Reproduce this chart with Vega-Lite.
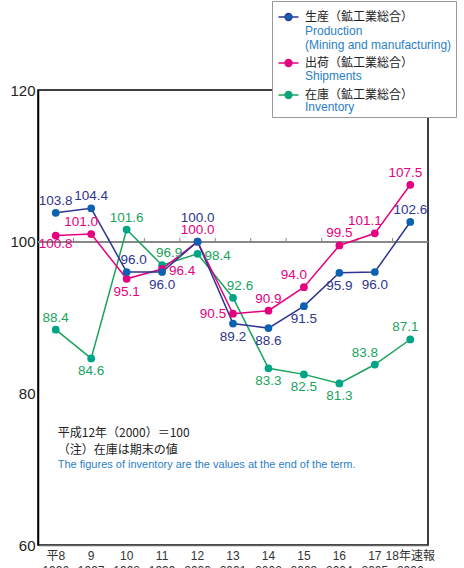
{
  "$schema": "https://vega.github.io/schema/vega-lite/v6.json",
  "width": 390,
  "height": 455,
  "autosize": {"type": "none"},
  "padding": {"left": 38, "top": 90, "right": 36, "bottom": 23},
  "background": "#ffffff",
  "config": {
    "view": {"stroke": "#000000", "strokeWidth": 1.5},
    "font": "Liberation Sans, Noto Sans CJK JP, sans-serif"
  },
  "resolve": {"scale": {"fill": "independent"}, "legend": {"fill": "independent"}},
  "data": {
    "values": [
      {"year": "1996", "series": "在庫", "en": "Inventory", "value": 88.4},
      {"year": "1997", "series": "在庫", "en": "Inventory", "value": 84.6},
      {"year": "1998", "series": "在庫", "en": "Inventory", "value": 101.6},
      {"year": "1999", "series": "在庫", "en": "Inventory", "value": 96.9},
      {"year": "2000", "series": "在庫", "en": "Inventory", "value": 98.4},
      {"year": "2001", "series": "在庫", "en": "Inventory", "value": 92.6},
      {"year": "2002", "series": "在庫", "en": "Inventory", "value": 83.3},
      {"year": "2003", "series": "在庫", "en": "Inventory", "value": 82.5},
      {"year": "2004", "series": "在庫", "en": "Inventory", "value": 81.3},
      {"year": "2005", "series": "在庫", "en": "Inventory", "value": 83.8},
      {"year": "2006", "series": "在庫", "en": "Inventory", "value": 87.1},
      {"year": "1996", "series": "出荷", "en": "Shipments", "value": 100.8},
      {"year": "1997", "series": "出荷", "en": "Shipments", "value": 101.0},
      {"year": "1998", "series": "出荷", "en": "Shipments", "value": 95.1},
      {"year": "1999", "series": "出荷", "en": "Shipments", "value": 96.4},
      {"year": "2000", "series": "出荷", "en": "Shipments", "value": 100.0},
      {"year": "2001", "series": "出荷", "en": "Shipments", "value": 90.5},
      {"year": "2002", "series": "出荷", "en": "Shipments", "value": 90.9},
      {"year": "2003", "series": "出荷", "en": "Shipments", "value": 94.0},
      {"year": "2004", "series": "出荷", "en": "Shipments", "value": 99.5},
      {"year": "2005", "series": "出荷", "en": "Shipments", "value": 101.1},
      {"year": "2006", "series": "出荷", "en": "Shipments", "value": 107.5},
      {"year": "1996", "series": "生産", "en": "Production", "value": 103.8},
      {"year": "1997", "series": "生産", "en": "Production", "value": 104.4},
      {"year": "1998", "series": "生産", "en": "Production", "value": 96.0},
      {"year": "1999", "series": "生産", "en": "Production", "value": 96.0},
      {"year": "2000", "series": "生産", "en": "Production", "value": 100.0},
      {"year": "2001", "series": "生産", "en": "Production", "value": 89.2},
      {"year": "2002", "series": "生産", "en": "Production", "value": 88.6},
      {"year": "2003", "series": "生産", "en": "Production", "value": 91.5},
      {"year": "2004", "series": "生産", "en": "Production", "value": 95.9},
      {"year": "2005", "series": "生産", "en": "Production", "value": 96.0},
      {"year": "2006", "series": "生産", "en": "Production", "value": 102.6}
    ]
  },
  "encoding": {
    "x": {
      "field": "year",
      "type": "nominal",
      "scale": {"type": "band", "paddingInner": 0, "paddingOuter": 0, "domain": ["1996","1997","1998","1999","2000","2001","2002","2003","2004","2005","2006"]},
      "axis": {
        "title": null,
        "labelAngle": 0,
        "ticks": false,
        "domainColor": "#666666",
        "domainWidth": 1.5,
        "labelFontSize": 12,
        "labelColor": "#333333",
        "labelPadding": 5,
        "labelLineHeight": 15,
        "labelExpr": "[['平8','9','10','11','12','13','14','15','16','17','18年速報'][toNumber(datum.value) - 1996], datum.value]"
      }
    },
    "y": {
      "field": "value",
      "type": "quantitative",
      "scale": {"domain": [60, 120], "nice": false, "zero": false},
      "axis": {
        "title": null,
        "values": [60, 80, 100, 120],
        "grid": false,
        "ticks": false,
        "domainColor": "#000000",
        "domainWidth": 1.5,
        "labelFontSize": 15,
        "labelColor": "#222222",
        "labelPadding": 3
      }
    }
  },
  "layer": [
    {
      "mark": {"type": "rule", "color": "#888888", "strokeWidth": 1.5},
      "encoding": {"x": {"value": 0}, "x2": {"value": 390}, "y": {"datum": 100}}
    },
    {
      "transform": [{"filter": "datum.en == 'Production' && datum.year != '1996'"}],
      "mark": {"type": "rule", "color": "#888888", "strokeWidth": 1},
      "encoding": {
        "x": {"field": "year", "type": "nominal", "bandPosition": 0},
        "y": {"datum": 100},
        "y2": {"datum": 100.5}
      }
    },
    {
      "mark": {"type": "line", "strokeWidth": 1.5},
      "encoding": {
        "color": {
          "field": "series",
          "type": "nominal",
          "scale": {"domain": ["生産", "出荷", "在庫"], "range": ["#2e3590", "#e5007f", "#19a35c"]},
          "legend": {
            "orient": "none",
            "legendX": 234,
            "legendY": -89,
            "title": " ",
            "titleFontSize": 1,
            "titlePadding": 5,
            "padding": 4,
            "fillColor": "#ffffff",
            "strokeColor": "#999999",
            "symbolSize": 49,
            "symbolStrokeWidth": 1.3,
            "symbolOpacity": 0,
            "symbolOffset": 6.5,
            "labelOffset": 10.5,
            "rowPadding": 5,
            "labelFont": "Liberation Sans",
            "labelFontSize": 12,
            "labelColor": "#2a80c8",
            "labelLimit": 300,
            "labelExpr": "datum.label == '生産' ? ['', 'Production', '(Mining and manufacturing)'] : datum.label == '出荷' ? ['', 'Shipments'] : ['', 'Inventory']",
            "encode": {"labels": {"update": {"lineHeight": {"value": 14}}}}
          }
        }
      }
    },
    {
      "mark": {"type": "point", "filled": true, "size": 60, "opacity": 1},
      "encoding": {
        "fill": {
          "field": "series",
          "type": "nominal",
          "scale": {"domain": ["生産", "出荷", "在庫"], "range": ["#0b62b1", "#e5007f", "#00a487"]},
          "legend": null
        }
      }
    },
    {
      "transform": [{"filter": "indexof(['P1996','P1997','P2006','S2000','S2002','S2004','I1996','I1998'], substring(datum.en,0,1) + datum.year) >= 0"}],
      "mark": {"type": "text", "fontSize": 13.5, "dy": -12, "baseline": "middle"},
      "encoding": {"text": {"field": "value", "format": ".1f"}, "color": {"field": "series", "type": "nominal", "legend": null}}
    },
    {
      "transform": [{"filter": "indexof(['I1999','I2001','P1998'], substring(datum.en,0,1) + datum.year) >= 0"}],
      "mark": {"type": "text", "fontSize": 13.5, "dy": -12, "dx": 7, "baseline": "middle"},
      "encoding": {"text": {"field": "value", "format": ".1f"}, "color": {"field": "series", "type": "nominal", "legend": null}}
    },
    {
      "transform": [{"filter": "indexof(['S2006','I2006'], substring(datum.en,0,1) + datum.year) >= 0"}],
      "mark": {"type": "text", "fontSize": 13.5, "dy": -12, "dx": -5, "baseline": "middle"},
      "encoding": {"text": {"field": "value", "format": ".1f"}, "color": {"field": "series", "type": "nominal", "legend": null}}
    },
    {
      "transform": [{"filter": "indexof(['S1997','S2003','S2005','I2005'], substring(datum.en,0,1) + datum.year) >= 0"}],
      "mark": {"type": "text", "fontSize": 13.5, "dy": -12, "dx": -10, "baseline": "middle"},
      "encoding": {"text": {"field": "value", "format": ".1f"}, "color": {"field": "series", "type": "nominal", "legend": null}}
    },
    {
      "transform": [{"filter": "indexof(['P1999','P2001','P2002','P2003','P2004','P2005','S1998','I1997','I2002','I2003','I2004'], substring(datum.en,0,1) + datum.year) >= 0"}],
      "mark": {"type": "text", "fontSize": 13.5, "dy": 13, "baseline": "middle"},
      "encoding": {"text": {"field": "value", "format": ".1f"}, "color": {"field": "series", "type": "nominal", "legend": null}}
    },
    {
      "transform": [{"filter": "indexof(['S1996'], substring(datum.en,0,1) + datum.year) >= 0"}],
      "mark": {"type": "text", "fontSize": 13.5, "dy": 8, "baseline": "middle"},
      "encoding": {"text": {"field": "value", "format": ".1f"}, "color": {"field": "series", "type": "nominal", "legend": null}}
    },
    {
      "transform": [{"filter": "indexof(['S1999','I2000'], substring(datum.en,0,1) + datum.year) >= 0"}],
      "mark": {"type": "text", "fontSize": 13.5, "dx": 20, "dy": 2, "baseline": "middle"},
      "encoding": {"text": {"field": "value", "format": ".1f"}, "color": {"field": "series", "type": "nominal", "legend": null}}
    },
    {
      "transform": [{"filter": "indexof(['S2001'], substring(datum.en,0,1) + datum.year) >= 0"}],
      "mark": {"type": "text", "fontSize": 13.5, "dx": -20, "baseline": "middle"},
      "encoding": {"text": {"field": "value", "format": ".1f"}, "color": {"field": "series", "type": "nominal", "legend": null}}
    },
    {
      "transform": [{"filter": "indexof(['P2000'], substring(datum.en,0,1) + datum.year) >= 0"}],
      "mark": {"type": "text", "fontSize": 13.5, "dy": -24, "baseline": "middle"},
      "encoding": {"text": {"field": "value", "format": ".1f"}, "color": {"field": "series", "type": "nominal", "legend": null}}
    },
    {
      "transform": [{"filter": "datum.en == 'Production' && datum.year == '1996'"}],
      "mark": {"type": "text", "align": "left", "baseline": "middle", "dx": 2, "fontSize": 12, "lineHeight": 17, "font": "Noto Sans CJK JP", "fill": "#222222"},
      "encoding": {
        "y": {"datum": 74.8},
        "text": {"value": ["平成12年（2000）＝100", "（注）在庫は期末の値"]}
      }
    },
    {
      "transform": [{"filter": "datum.en == 'Production' && datum.year == '1996'"}],
      "mark": {"type": "text", "align": "left", "baseline": "middle", "dx": 2, "fontSize": 11, "font": "Liberation Sans", "fill": "#2a80c8"},
      "encoding": {
        "y": {"datum": 70.55},
        "text": {"value": "The figures of inventory are the values at the end of the term."}
      }
    },
    {
      "mark": {"type": "point", "filled": true, "opacity": 0, "size": 49},
      "encoding": {
        "fill": {
          "field": "en",
          "type": "nominal",
          "scale": {"domain": ["Production", "Shipments", "Inventory"], "range": ["#0b62b1", "#e5007f", "#00a487"]},
          "legend": {
            "orient": "none",
            "legendX": 234,
            "legendY": -89,
            "title": " ",
            "titleFontSize": 1,
            "titlePadding": 5,
            "padding": 4,
            "symbolSize": 49,
            "symbolStrokeWidth": 1.3,
            "symbolOpacity": 1,
            "symbolType": "M-2.86,0H-1M1,0H2.86M1,0A1,1,0,1,1,-1,0A1,1,0,1,1,1,0Z",
            "symbolOffset": 6.5,
            "labelOffset": 10.5,
            "rowPadding": 5,
            "labelFont": "Noto Sans CJK JP",
            "labelFontSize": 12,
            "labelColor": "#222222",
            "labelLimit": 300,
            "labelExpr": "datum.label == 'Production' ? ['生産（鉱工業総合）', '', ''] : datum.label == 'Shipments' ? ['出荷（鉱工業総合）', ''] : ['在庫（鉱工業総合）', '']",
            "encode": {
              "labels": {"update": {"lineHeight": {"value": 14}}},
              "symbols": {
                "update": {
                  "opacity": {"value": 1},
                  "stroke": {"signal": "datum.value == 'Production' ? '#2e3590' : datum.value == 'Shipments' ? '#e5007f' : '#19a35c'"},
                  "fillOpacity": {"value": 1},
                  "strokeOpacity": {"value": 1}
                }
              }
            }
          }
        }
      }
    }
  ]
}
